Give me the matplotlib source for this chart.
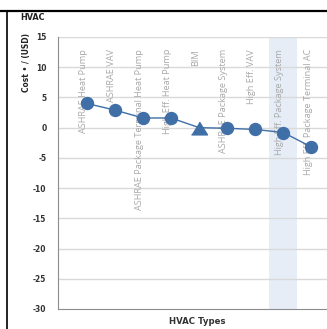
import matplotlib.pyplot as plt
from matplotlib.lines import Line2D

# HVAC option costs relative to the BIM baseline
hvac_types = [
    "ASHRAE Heat Pump",
    "ASHRAE VAV",
    "ASHRAE Package Terminal Heat Pump",
    "High Eff. Heat Pump",
    "BIM",
    "ASHRAE Package System",
    "High Eff. VAV",
    "High Eff. Package System",
    "High Eff. Package Terminal AC",
]
cost_delta = [4.0, 2.9, 1.6, 1.6, 0.0, -0.1, -0.3, -0.8, -3.2]
baseline = "BIM"
highlighted = "High Eff. Package System"
y_ticks = [15, 10, 5, 0, -5, -10, -15, -20, -25, -30]

blue = "#3f6fa6"
narrow = dict(family=["DejaVu Sans"], fontstretch="condensed", fontweight="bold")
tri = [(-1, -0.8), (1, -0.8), (0, 0.8)]

fig = plt.figure(figsize=(3.27, 3.29), dpi=100)
ax = fig.add_axes([57.5 / 327, 20 / 329, 296 / 327, 272 / 329])

xs = list(range(len(hvac_types)))
ax.set_xlim(-1.05, 9.5)
ax.set_ylim(-30, 15)

# shaded column behind the highlighted option
hi = hvac_types.index(highlighted)
ax.axvspan(hi - 0.5, hi + 0.5, color="#e6edf7", zorder=0, lw=0)

# horizontal grid
for t in y_ticks[:-1]:
    ax.axhline(t, color="#d9d9d9", lw=1, zorder=1)

ax.plot(xs, cost_delta, color=blue, lw=1.0, zorder=3)
for x, y, name in zip(xs, cost_delta, hvac_types):
    if name == baseline:
        ax.plot(x, y, marker=tri, ms=11.5, color=blue, mec=blue, zorder=4)
    else:
        ax.plot(x, y, marker="o", ms=8.6, color=blue, mec=blue, zorder=4)

# category names written vertically inside the plot
for x, name in zip(xs, hvac_types):
    ax.text(x - 0.12, 13.0, name, rotation=90, ha="center", va="top",
            fontsize=6.6, color="#a8a8a8", family="Open Sans", zorder=2)

ax.set_yticks(y_ticks)
ax.set_yticklabels([str(t) for t in y_ticks], fontsize=6, color="#333333", **narrow)
ax.set_xticks([])
ax.tick_params(axis="y", length=0, pad=8)

for s in ["top", "right"]:
    ax.spines[s].set_visible(False)
for s in ["left", "bottom"]:
    ax.spines[s].set_color("#8c8c8c")
    ax.spines[s].set_linewidth(0.8)

fig.text(197 / 327, 1 - 322 / 329, "HVAC Types", ha="center", va="center",
         fontsize=6.8, color="#333333", **narrow)
fig.text(26 / 327, 1 - 33 / 329, "Cost \u2022 / (USD)", rotation=90, ha="center",
         va="top", fontsize=6, color="#222222", **narrow)
fig.text(20 / 327, 1 - 17 / 329, "HVAC", ha="left", va="center",
         fontsize=6.5, color="#222222", **narrow)

# frame lines along the top and left edge
fig.add_artist(Line2D([0, 1], [1 - 10.5 / 329] * 2, color="black", lw=1.6,
                      transform=fig.transFigure))
fig.add_artist(Line2D([7 / 327] * 2, [0, 1 - 10.5 / 329], color="black", lw=1.2,
                      transform=fig.transFigure))

fig.savefig("out.png", dpi=100)
